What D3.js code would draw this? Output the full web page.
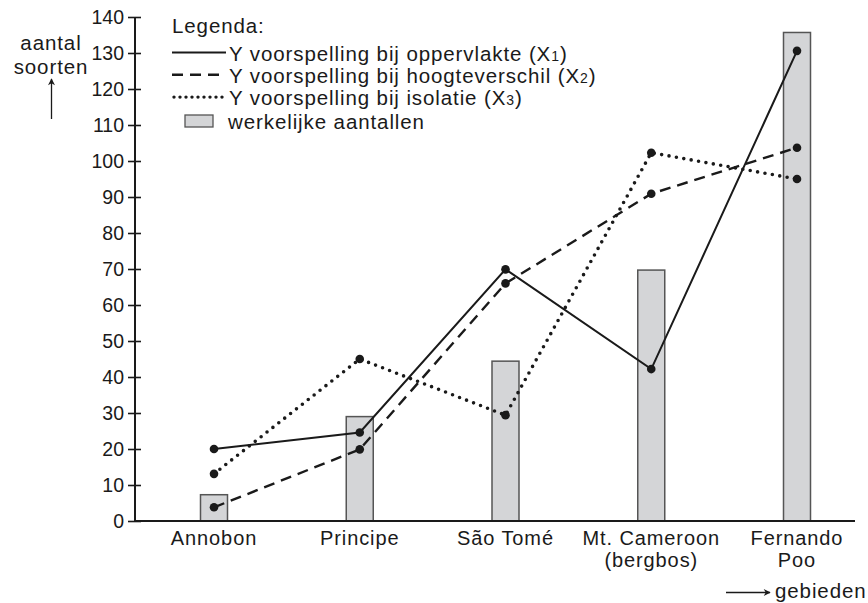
<!DOCTYPE html>
<html>
<head>
<meta charset="utf-8">
<script src="https://cdn.jsdelivr.net/npm/d3@7"></script>
<style>
  body { margin: 0; background: #fff; }
  svg { font-family: "Liberation Sans", Arial, sans-serif; }
</style>
</head>
<body>
<div id="chart"></div>
<script>
// categories and values
const gebieden = ["Annobon", "Principe", "São Tomé", "Mt. Cameroon", "Fernando Poo"];
const labelLines = [["Annobon"], ["Principe"], ["São Tomé"], ["Mt. Cameroon", "(bergbos)"], ["Fernando", "Poo"]];
const werkelijk = [7.3, 29, 44.4, 69.7, 135.7];
const oppervlakte = [20, 24.6, 69.9, 42.2, 130.6];
const hoogteverschil = [3.8, 19.9, 66, 90.9, 103.7];
const isolatie = [13.1, 45, 29.4, 102.3, 95];
const yTicks = [0, 10, 20, 30, 40, 50, 60, 70, 80, 90, 100, 110, 120, 130, 140];

const W = 868, H = 603;
const axisX = 135, axisY = 521, topY = 17, axisEnd = 855;
const ink = "#1a1a1a";
const fs = 20.5, ls = 0.9;

const svg = d3.select("#chart").append("svg")
  .attr("width", W)
  .attr("height", H);

const x = d3.scalePoint()
  .domain(gebieden)
  .range([214, 797]);

const y = d3.scaleLinear()
  .domain([0, 140])
  .range([axisY, topY]);

// bars
const barW = 27;
svg.selectAll("rect.bar")
  .data(werkelijk)
  .enter().append("rect")
  .attr("class", "bar")
  .attr("x", (d, i) => x(gebieden[i]) - barW / 2)
  .attr("y", d => y(d))
  .attr("width", barW)
  .attr("height", d => axisY - y(d))
  .attr("fill", "#d4d5d7")
  .attr("stroke", "#555")
  .attr("stroke-width", 1.5);

// y axis
const yAxis = svg.append("g")
  .attr("transform", "translate(" + axisX + ",0)")
  .call(d3.axisLeft(y).tickValues(yTicks).tickSize(0).tickPadding(11));
yAxis.select(".domain").remove();
yAxis.selectAll("text")
  .attr("font-size", 19.5)
  .attr("fill", ink)
  .attr("font-family", "Liberation Sans, Arial, sans-serif");
yAxis.selectAll(".tick").append("line")
  .attr("x1", -7).attr("x2", 6)
  .attr("stroke", ink).attr("stroke-width", 1.6);
svg.append("line")
  .attr("x1", axisX).attr("x2", axisX)
  .attr("y1", y(140)).attr("y2", axisY)
  .attr("stroke", ink).attr("stroke-width", 2);

// x axis line
svg.append("line")
  .attr("x1", axisX).attr("x2", axisEnd)
  .attr("y1", axisY).attr("y2", axisY)
  .attr("stroke", ink).attr("stroke-width", 2);

// category labels, one text per line
labelLines.forEach((lines, i) => {
  lines.forEach((t, j) => {
    svg.append("text")
      .attr("class", "cat")
      .attr("x", x(gebieden[i]))
      .attr("y", 545 + j * 22)
      .attr("text-anchor", "middle")
      .attr("font-size", 20)
      .attr("letter-spacing", ls)
      .attr("fill", ink)
      .text(t);
  });
});

// lines
const line = d3.line()
  .x((d, i) => x(gebieden[i]))
  .y(d => y(d));

const series = [
  { values: oppervlakte, dash: null, width: 2, cap: "butt" },
  { values: hoogteverschil, dash: "11,7", width: 2.4, cap: "butt" },
  { values: isolatie, dash: "0,7.5", width: 3.6, cap: "round" }
];

series.forEach(s => {
  svg.append("path")
    .datum(s.values)
    .attr("d", line)
    .attr("fill", "none")
    .attr("stroke", ink)
    .attr("stroke-width", s.width)
    .attr("stroke-linecap", s.cap)
    .attr("stroke-dasharray", s.dash);
  svg.selectAll(null)
    .data(s.values)
    .enter().append("circle")
    .attr("cx", (d, i) => x(gebieden[i]))
    .attr("cy", d => y(d))
    .attr("r", 4.3)
    .attr("fill", ink);
});

// y axis title + arrow
const yt = svg.append("text")
  .attr("text-anchor", "middle")
  .attr("font-size", fs)
  .attr("letter-spacing", ls)
  .attr("fill", ink);
yt.append("tspan").attr("x", 51).attr("y", 50).text("aantal");
yt.append("tspan").attr("x", 51).attr("y", 74).text("soorten");

svg.append("defs").append("marker")
  .attr("id", "arrow")
  .attr("viewBox", "0 0 10 10")
  .attr("refX", 9).attr("refY", 5)
  .attr("markerWidth", 9).attr("markerHeight", 7)
  .attr("markerUnits", "userSpaceOnUse")
  .attr("orient", "auto")
  .append("path")
  .attr("d", "M0,0 L10,5 L0,10 L3,5 Z")
  .attr("fill", ink);

svg.append("line")
  .attr("x1", 51.5).attr("x2", 51.5)
  .attr("y1", 119).attr("y2", 79)
  .attr("stroke", ink).attr("stroke-width", 1.3)
  .attr("marker-end", "url(#arrow)");

// x axis title + arrow
svg.append("line")
  .attr("x1", 726).attr("x2", 770)
  .attr("y1", 592.5).attr("y2", 592.5)
  .attr("stroke", ink).attr("stroke-width", 1.3)
  .attr("marker-end", "url(#arrow)");
svg.append("text")
  .attr("x", 775).attr("y", 598)
  .attr("font-size", fs)
  .attr("letter-spacing", ls)
  .attr("fill", ink)
  .text("gebieden");

// legend
const lg = svg.append("g")
  .attr("font-size", fs)
  .attr("letter-spacing", ls)
  .attr("fill", ink);
lg.append("text").attr("x", 172).attr("y", 32.5).text("Legenda:");

const legItems = [
  { label: "Y voorspelling bij oppervlakte (X", sub: "1", dash: null, width: 2, cap: "butt" },
  { label: "Y voorspelling bij hoogteverschil (X", sub: "2", dash: "11,7", width: 2.4, cap: "butt" },
  { label: "Y voorspelling bij isolatie (X", sub: "3", dash: "0,6", width: 3.4, cap: "round" }
];
legItems.forEach((it, i) => {
  const ly = 52.5 + i * 22.3;
  lg.append("line")
    .attr("x1", it.cap === "round" ? 174 : 172).attr("x2", 226)
    .attr("y1", ly).attr("y2", ly)
    .attr("stroke", ink)
    .attr("stroke-width", it.width)
    .attr("stroke-linecap", it.cap)
    .attr("stroke-dasharray", it.dash);
  const t = lg.append("text").attr("x", 229).attr("y", ly + 8);
  t.append("tspan").text(it.label);
  t.append("tspan").attr("font-size", 14).text(it.sub);
  t.append("tspan").text(")");
});
lg.append("rect")
  .attr("x", 185).attr("y", 115)
  .attr("width", 28).attr("height", 12)
  .attr("fill", "#d4d5d7")
  .attr("stroke", "#555")
  .attr("stroke-width", 1.3);
lg.append("text").attr("x", 228).attr("y", 129).text("werkelijke aantallen");
</script>
</body>
</html>
